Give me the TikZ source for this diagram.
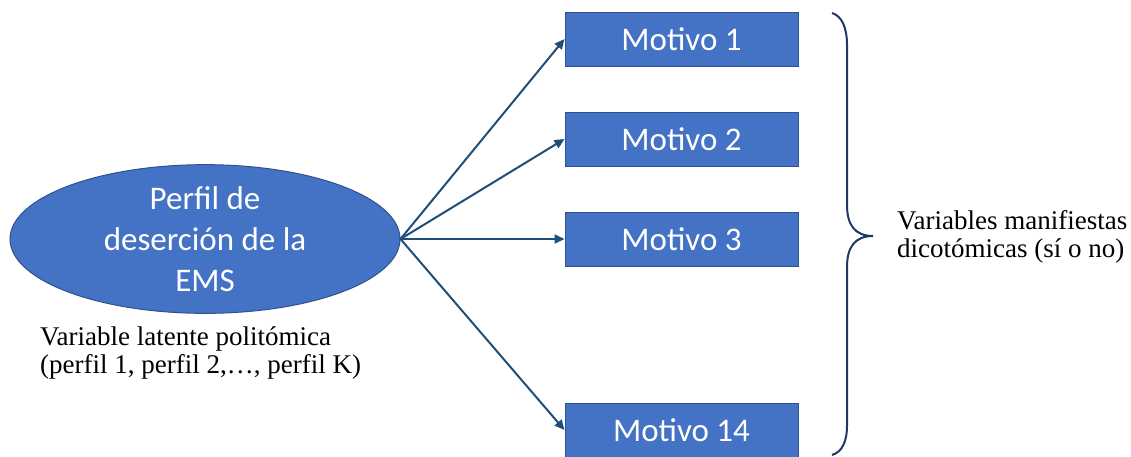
\documentclass[tikz,border=0pt]{standalone}
\usepackage{fontspec}
\setmainfont{Liberation Serif}
\newfontfamily\calib{Carlito}
\usetikzlibrary{shapes.geometric,arrows.meta}
\definecolor{boxfill}{HTML}{4472C4}
\definecolor{boxline}{HTML}{2F528F}
\definecolor{arrowc}{HTML}{1F4E79}
\definecolor{bracec}{HTML}{203864}
\tikzset{
  motbox/.style={draw=boxline, line width=1pt, fill=boxfill, minimum width=233pt, minimum height=54pt, inner sep=0pt, text=white, font=\calib\fontsize{33}{40}\selectfont},
  latent/.style={ellipse, draw=boxline, line width=1pt, fill=boxfill, minimum width=390pt, minimum height=122pt, inner sep=0pt, text=white, align=center, font=\calib\fontsize{33}{41}\selectfont},
  conn/.style={draw=arrowc, line width=2pt, -{Triangle[length=10pt,width=9pt]}},
  label/.style={inner sep=0pt, align=left, font=\fontsize{27}{28}\selectfont, text=black},
}
\begin{document}
\begin{tikzpicture}[x=1pt,y=-1pt]
\useasboundingbox (0,0) rectangle (1131,456);
\begin{scope}
\clip (0,0) rectangle (1131,456);
\node[latent] (lat) at (205,239) {Perfil de\\deserción de la\\EMS};
\node[motbox] (m1) at (681.5,39) {Motivo 1};
\node[motbox] (m2) at (681.5,139) {Motivo 2};
\node[motbox] (m3) at (681.5,239) {Motivo 3};
\node[motbox] (m14) at (681.5,430) {Motivo 14};
\end{scope}
\draw[conn] (lat.east) -- (m1.west);
\draw[conn] (lat.east) -- (m2.west);
\draw[conn] (lat.east) -- (m3.west);
\draw[conn] (lat.east) -- (m14.west);
\node[label, anchor=north west] (lt) at (40,327) {Variable latente politómica\\(perfil 1, perfil 2,\ldots, perfil K)};
\coordinate (btip) at (873,236);
\draw[bracec, line width=2pt] (832,13) .. controls (842,16) and (847,28) .. (847,45) -- (847,205) .. controls (847,225) and (855,236) .. (btip) .. controls (855,236) and (847,247) .. (847,267) -- (847,425) .. controls (847,442) and (842,452) .. (832,455);
\node[label, anchor=north west] (rt) at (897,210) {Variables manifiestas\\dicotómicas (sí o no)};
\end{tikzpicture}
\end{document}
